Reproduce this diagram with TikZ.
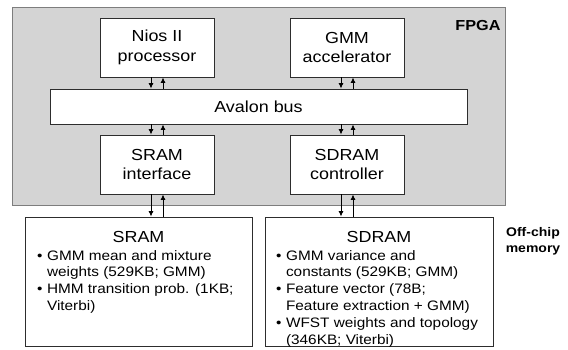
\documentclass[tikz,border=0pt]{standalone}
\usepackage{fontspec}
\setmainfont{Liberation Sans}[FakeStretch=1.12]
\usepackage{tikz}
\usetikzlibrary{arrows.meta, positioning}
\usepackage{xcolor}
\definecolor{fpgafill}{RGB}{212,212,212}
\definecolor{fpgaline}{RGB}{125,125,125}
\definecolor{boxline}{RGB}{45,45,45}

\tikzset{
  unit/.style={draw=boxline, fill=white, line width=0.9pt, inner sep=0pt, align=center,
    minimum width=114pt, minimum height=59pt, font=\fontsize{16}{19.5}\selectfont},
  membox/.style={draw=boxline, fill=white, line width=0.9pt, inner sep=0pt, minimum height=129pt},
  memtitle/.style={inner sep=0pt, font=\fontsize{16}{19.5}\selectfont},
  memlist/.style={inner sep=0pt, anchor=north west, font=\fontsize{13.7}{16.8}\selectfont},
  link/.style={-{Latex[length=5.5pt,width=5pt]}, line width=0.8pt},
}

\begin{document}
\begin{tikzpicture}[x=1pt,y=1pt]
    \useasboundingbox (0,0) rectangle (568,349);

    % FPGA area
    \draw[fill=fpgafill, draw=fpgaline, line width=0.9pt] (12,144) rectangle (505,342);
    \node[font=\fontsize{14.5}{16}\selectfont\bfseries] (fpga) at (478,323) {FPGA};

    % Blocks on the chip
    \node[unit] (nios) at (157,301.5) {Nios II\\processor};
    \node[unit] (gmm) at (347,301.5) {GMM\\accelerator};
    \node[unit, minimum width=417pt, minimum height=35pt] (bus) at (258.5,242.5) {Avalon bus};
    \node[unit] (sramif) at (157,184.5) {SRAM\\interface};
    \node[unit] (sdramctl) at (347,184.5) {SDRAM\\controller};

    % Off-chip memories
    \node[membox, minimum width=227pt] (sram) at (138.5,67.5) {};
    \node[membox, minimum width=228pt] (sdram) at (379,67.5) {};
    \node[memtitle] (sramtitle) at (sram.center |- 0,112.5) {SRAM};
    \node[memtitle] (sdramtitle) at (sdram.center |- 0,112.5) {SDRAM};
    \node[memlist] (sramlist) at (37,100.8) {%
      \begin{tabular}{@{}l@{\hspace{4.5pt}}l@{}}
        \textbullet & GMM mean and mixture\\
                    & weights (529KB; GMM)\\
        \textbullet & HMM transition prob. (1KB;\\
                    & Viterbi)
      \end{tabular}};
    \node[memlist] (sdramlist) at (276,100.8) {%
      \begin{tabular}{@{}l@{\hspace{4.5pt}}l@{}}
        \textbullet & GMM variance and\\
                    & constants (529KB; GMM)\\
        \textbullet & Feature vector (78B;\\
                    & Feature extraction + GMM)\\
        \textbullet & WFST weights and topology\\
                    & (346KB; Viterbi)
      \end{tabular}};
    \node[align=center, font=\fontsize{12.5}{16}\selectfont\bfseries] (offchip) at (533,107.5) {Off-chip\\memory};

    % Pairs of links, down on the left and up on the right
    \foreach \hi/\lo/\xn in {nios/bus/nios, gmm/bus/gmm, bus/sramif/sramif, bus/sdramctl/sdramctl,
                             sramif/sram/sramif, sdramctl/sdram/sdramctl} {
      \draw[link] ([xshift=-6pt]\xn.center |- \hi.south) -- ([xshift=-6pt]\xn.center |- \lo.north);
      \draw[link] ([xshift=6pt]\xn.center |- \lo.north) -- ([xshift=6pt]\xn.center |- \hi.south);
    }
\end{tikzpicture}
\end{document}
